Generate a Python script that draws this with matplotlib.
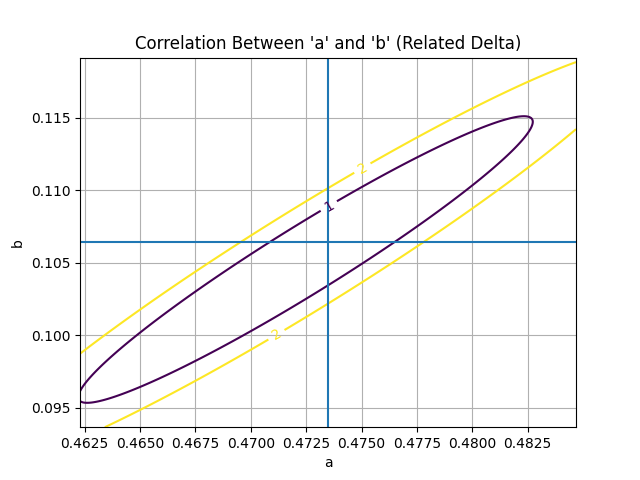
import numpy as np
import matplotlib
matplotlib.use("Agg")
import matplotlib.pyplot as plt

# best-fit values and plotting range
a_best = 0.47349
b_best = 0.10645
a_range = (0.46229, 0.48468)
b_range = (0.09366, 0.11914)

# confidence ellipse parameters
ell_center = (0.47247, 0.10522)
ell_sigma = (0.01026, 0.00988)
ell_rho = 0.961
level2_scale = 1.46   # radius of the "2" contour relative to the "1" contour
levels = [1, 2]
label_pos = [(0.47349, 0.10899), (0.4750, 0.11162), (0.47117, 0.1000)]

title = "Correlation Between 'a' and 'b' (Related Delta)"

fig, ax = plt.subplots(figsize=(6.4, 4.8), dpi=100)

av = np.linspace(a_range[0], a_range[1], 300)
bv = np.linspace(b_range[0], b_range[1], 300)
A, B = np.meshgrid(av, bv)
u = (A - ell_center[0]) / ell_sigma[0]
v = (B - ell_center[1]) / ell_sigma[1]
Q = (u**2 - 2 * ell_rho * u * v + v**2) / (1 - ell_rho**2)
R = np.sqrt(Q)
Z = 1 + (R - 1) / (level2_scale - 1)

cs = ax.contour(A, B, Z, levels=levels, cmap='viridis', linewidths=1.5)
ax.clabel(cs, inline=True, fontsize=10, manual=label_pos)

ax.axvline(a_best, color='C0')
ax.axhline(b_best, color='C0')
ax.set_xlim(*a_range)
ax.set_ylim(*b_range)
ax.grid(True)
ax.set_xlabel('a')
ax.set_ylabel('b')
ax.set_title(title)

fig.savefig('out.png', dpi=100)
